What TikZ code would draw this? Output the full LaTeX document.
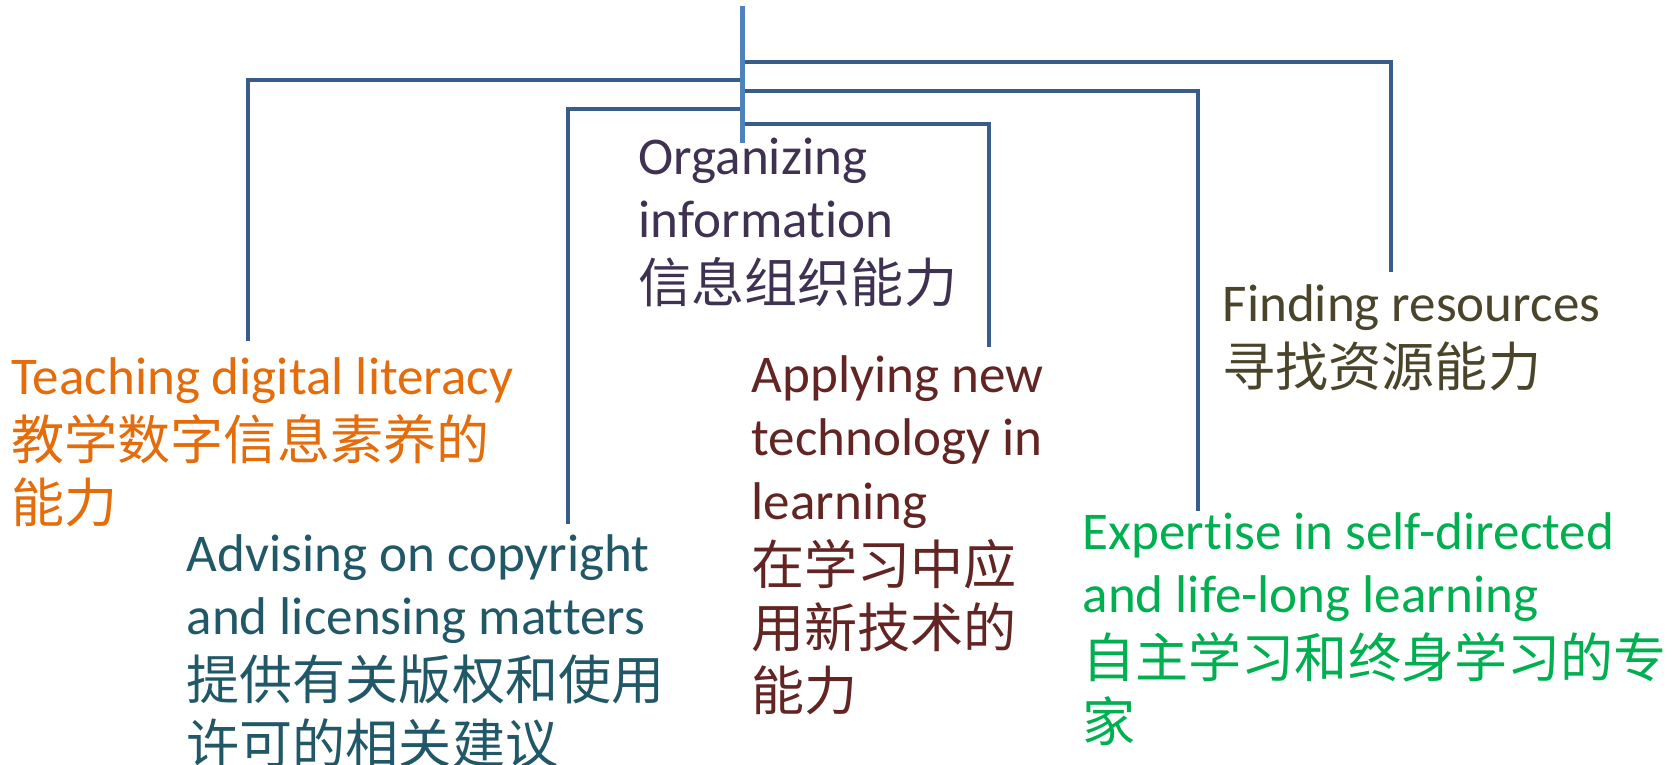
\documentclass[tikz,border=0pt]{standalone}
\usepackage{fontspec}
\setmainfont{Carlito}[Ligatures=NoCommon]
\newfontfamily\cjk{Noto Sans CJK SC}

\definecolor{trunkblue}{HTML}{4F81BD}
\definecolor{branchblue}{HTML}{385D8A}
\definecolor{teachorange}{HTML}{E46C0A}
\definecolor{adviseteal}{HTML}{215868}
\definecolor{orgpurple}{HTML}{3F3151}
\definecolor{applyred}{HTML}{632523}
\definecolor{findolive}{HTML}{4A452A}
\definecolor{expertgreen}{HTML}{00B050}

\begin{document}
\begin{tikzpicture}[
  x=0.1mm, y=-0.1mm,
  trunk/.style={draw=trunkblue, line width=0.53mm},
  branch/.style={draw=branchblue, line width=0.46mm},
  skill/.style={anchor=north west, inner sep=0pt, align=left,
    font=\fontsize{15.1pt}{18pt}\selectfont}
]
\useasboundingbox (0,0) rectangle (1677,765);

% trunk and branch ends
\coordinate (top) at (742.5,6);
\coordinate (hub) at (742.5,143);
\coordinate (findend) at (1391,272);
\coordinate (teachend) at (248,341);
\coordinate (expertend) at (1198,511);
\coordinate (adviseend) at (568,524);
\coordinate (applyend) at (989,347);

% skills
\node[skill, text=orgpurple] (org) at (638,137)
  {Organizing\\information\\[0.5pt]\cjk 信息组织能力};
\node[skill, text=findolive] (find) at (1222,284)
  {Finding resources\\[0.5pt]\cjk 寻找资源能力};
\node[skill, text=teachorange] (teach) at (11,357)
  {Teaching digital literacy\\[0.5pt]\cjk 教学数字信息素养的\\\cjk 能力};
\node[skill, text=applyred] (apply) at (751,355)
  {Applying new\\technology in\\learning\\[0.5pt]\cjk 在学习中应\\\cjk 用新技术的\\\cjk 能力};
\node[skill, text=adviseteal] (advise) at (186,534)
  {Advising on copyright\\and licensing matters\\[0.5pt]\cjk 提供有关版权和使用\\\cjk 许可的相关建议};
\node[skill, text=expertgreen] (expert) at (1082,512)
  {Expertise in self-directed\\and life-long learning\\[0.5pt]\cjk 自主学习和终身学习的专\\\cjk 家};

% connectors
\draw[branch] (top |- 0,62) -| (findend);
\draw[branch] (top |- 0,80) -| (teachend);
\draw[branch] (top |- 0,91) -| (expertend);
\draw[branch] (top |- 0,109) -| (adviseend);
\draw[branch] (top |- 0,124) -| (applyend);
\draw[trunk] (top) -- (hub);
\end{tikzpicture}
\end{document}
